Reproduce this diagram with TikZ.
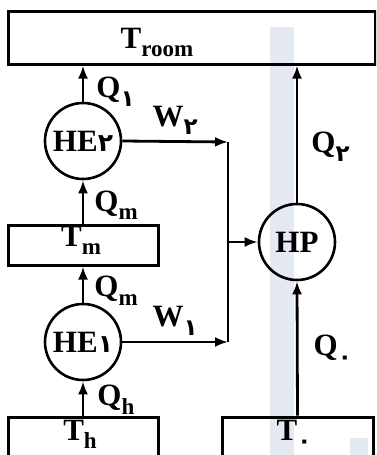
\documentclass[tikz,border=0pt]{standalone}
\usepackage{fontspec}
\setmainfont{Liberation Serif}
\newfontfamily\fadigits{DejaVu Sans}
\usetikzlibrary{arrows.meta,positioning}
\definecolor{scanband}{RGB}{229,233,241}
\newcommand{\fa}[1]{{\fadigits\bfseries #1}}
\newcommand{\sub}[1]{\raisebox{-0.28em}{\fontsize{23}{23}\selectfont #1}}
\begin{document}
\begin{tikzpicture}[x=1pt, y=-1pt,
    every node/.style={font=\fontsize{31}{33}\selectfont\bfseries},
    reservoir/.style={draw, line width=3pt, inner sep=0pt},
    temp/.style={anchor=base, inner sep=0pt},
    engine/.style={draw, circle, line width=2.6pt, minimum size=76pt, inner sep=0pt},
    flow/.style={line width=2.8pt, -{Latex[length=13pt,width=10pt]}},
    qlabel/.style={anchor=west, inner sep=0pt}]
        \useasboundingbox (0,0) rectangle (376,455);
        \clip (0,0) rectangle (376,455);

        % Light band of the scan
        \fill[scanband] (270,27) rectangle (294,455);
        \fill[scanband] (350,438) rectangle (368,455);

        % Reservoirs
        \node[reservoir, minimum width=367pt, minimum height=53pt] (room) at (191.5,37.5) {};
        \node[reservoir, minimum width=150pt, minimum height=40pt] (mid) at (83,245) {};
        \node[reservoir, minimum width=150pt, minimum height=46pt] (hot) at (83,440) {};
        \node[reservoir, minimum width=151pt, minimum height=46pt] (out) at (297.5,440) {};
        \node[temp] (roomtxt) at (157,48) {T\sub{room}};
        \node[temp] (midtxt) at (81,246) {T\sub{m}};
        \node[temp] (hottxt) at (80,440) {T\sub{h}};
        \node[temp] (outtxt) at (294,440) {T\sub{\fa{۰}}};

        % Engines and heat pump
        \node[engine] (he2) at (83,141) {HE{\fontsize{25}{25}\selectfont\fa{۲}}};
        \node[engine] (he1) at (83,342) {HE{\fontsize{25}{25}\selectfont\fa{۱}}};
        \node[engine] (hp) at (297,242) {HP};

        % Work line
        \coordinate (w2end) at (228,142);
        \coordinate (w1end) at (228,342);
        \coordinate (wjoin) at (228,242);

        % Heat flows, left column
        \draw[flow] (hot.north) -- (he1.south) node[qlabel, pos=0.46, xshift=13pt] {Q\sub{h}};
        \draw[flow] (he1.north) -- (mid.south) node[qlabel, pos=0.33, xshift=10pt] {Q\sub{m}};
        \draw[flow] (mid.north) -- (he2.south) node[qlabel, pos=0.42, xshift=10pt] {Q\sub{m}};
        \draw[flow] (he2.north) -- (he2.north |- room.south) node[qlabel, pos=0.28, xshift=12pt] {Q\sub{\fa{۱}}};

        % Work to the heat pump
        \draw[flow] (he2.east) -- (w2end) node[midway, above=2pt] {W\sub{\fa{۲}}};
        \draw[flow] (he1.east) -- (w1end) node[midway, above=2pt] {W\sub{\fa{۱}}};
        \draw[line width=2.8pt] (w2end) -- (w1end);
        \draw[flow] (wjoin) -- (hp.west);

        % Heat flows, right column
        \draw[flow] (out.north) -- (hp.south) node[qlabel, pos=0.49, xshift=15pt] {Q\sub{\fa{۰}}};
        \draw[flow] (hp.north) -- (hp.north |- room.south) node[qlabel, pos=0.41, xshift=13pt] {Q\sub{\fa{۲}}};
    \end{tikzpicture}
\end{document}
